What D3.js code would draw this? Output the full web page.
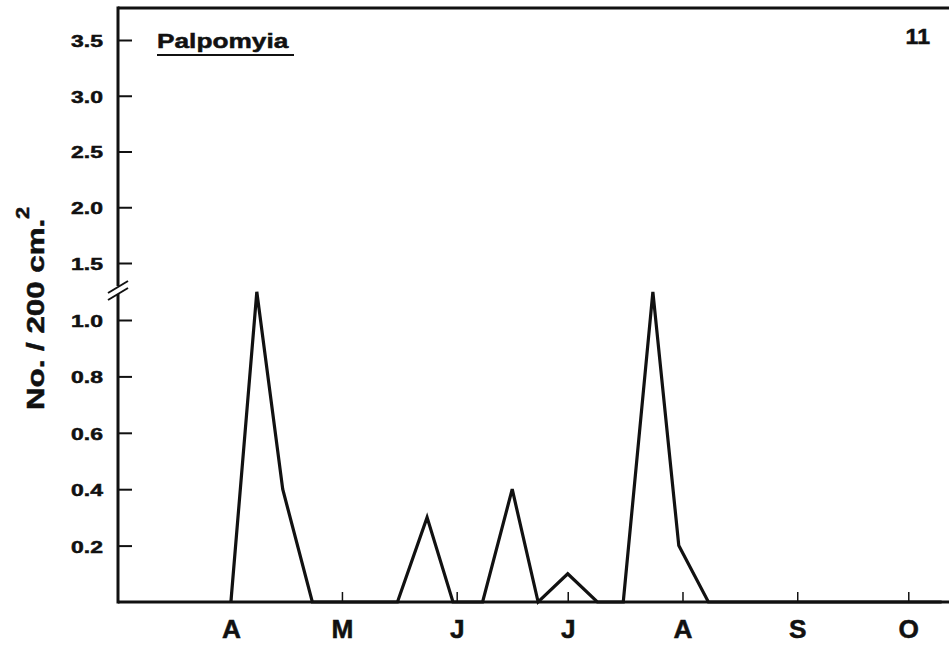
<!DOCTYPE html>
<html>
<head>
<meta charset="utf-8">
<script src="https://cdn.jsdelivr.net/npm/d3@7"></script>
<style>
  body { margin: 0; background: #fff; }
  text { font-family: "Liberation Sans", Arial, sans-serif; font-weight: bold; fill: #111; stroke: #111; stroke-width: 0.5px; }
</style>
</head>
<body>
<div id="chart"></div>
<script>
// sampling dates and counts (No. / 200 cm2)
var sampleDates = ["1975-04-01","1975-04-08","1975-04-15","1975-04-23","1975-04-30","1975-05-08",
  "1975-05-16","1975-05-24","1975-05-31","1975-06-08","1975-06-16","1975-06-23","1975-07-01",
  "1975-07-09","1975-07-16","1975-07-24","1975-07-31","1975-08-08","1975-08-15","1975-08-22",
  "1975-08-29","1975-09-05","1975-09-12","1975-09-19","1975-09-26","1975-10-03","1975-10-10"];
var counts = [0, 1.1, 0.4, 0, 0, 0,
  0, 0.3, 0, 0, 0.4, 0, 0.1,
  0, 0, 1.1, 0.2, 0, 0, 0,
  0, 0, 0, 0, 0, 0, 0];

var monthStarts = ["1975-04-01","1975-05-01","1975-06-01","1975-07-01","1975-08-01","1975-09-01","1975-10-01"];
var monthLabels = ["A","M","J","J","A","S","O"];
var lowTicks = [0.2, 0.4, 0.6, 0.8, 1.0];
var highTicks = [1.5, 2.0, 2.5, 3.0, 3.5];

var W = 949, H = 646;
var mLeft = 118, mTop = 8, mBottom = 602;

var parse = d3.utcParse("%Y-%m-%d");

var svg = d3.select("#chart").append("svg")
  .attr("width", W)
  .attr("height", H);

var x = d3.scaleUtc()
  .domain([new Date(Date.UTC(1975, 2, 1, 12)), new Date(Date.UTC(1975, 9, 12))])
  .range([mLeft, W]);

// broken y axis: two linear pieces
var yLow = d3.scaleLinear().domain([0, 1]).range([mBottom, 320]);
var yHigh = d3.scaleLinear().domain([1.5, 3.5]).range([263, 40]);

// stretch text horizontally like the wide typeface of the original
function stretch(sel, k) {
  sel.each(function() {
    var len = this.getComputedTextLength();
    d3.select(this).attr("textLength", len * k).attr("lengthAdjust", "spacingAndGlyphs");
  });
}

// y axis ticks
var fmt = d3.format(".1f");
[[yLow, lowTicks], [yHigh, highTicks]].forEach(function(p) {
  var g = svg.append("g")
    .attr("transform", "translate(" + mLeft + ",0)")
    .call(d3.axisLeft(p[0]).tickValues(p[1]).tickFormat(fmt).tickSizeInner(-14).tickSizeOuter(0).tickPadding(15));
  g.select(".domain").remove();
  g.selectAll(".tick line").attr("stroke", "#111").attr("stroke-width", 2);
  g.selectAll(".tick text").style("font-size", "17px").attr("dy", "0.38em");
  stretch(g.selectAll(".tick text"), 1.35);
});

// x axis
var xg = svg.append("g")
  .attr("transform", "translate(0," + mBottom + ")")
  .call(d3.axisBottom(x).tickValues(monthStarts.map(parse))
    .tickFormat(function(d, i) { return monthLabels[i]; })
    .tickSizeInner(-10).tickSizeOuter(0).tickPadding(18));
xg.select(".domain").remove();
xg.selectAll(".tick line").attr("stroke", "#111").attr("stroke-width", 1.5);
xg.selectAll(".tick text").style("font-size", "25px");
stretch(xg.selectAll(".tick text"), 1.05);

// frame lines
var axisStroke = 3;
svg.append("line").attr("x1", mLeft).attr("x2", W).attr("y1", mTop).attr("y2", mTop)
  .attr("stroke", "#111").attr("stroke-width", axisStroke);
svg.append("line").attr("x1", mLeft).attr("x2", W).attr("y1", mBottom).attr("y2", mBottom)
  .attr("stroke", "#111").attr("stroke-width", axisStroke);
svg.append("line").attr("x1", mLeft).attr("x2", mLeft).attr("y1", mTop - 1.5).attr("y2", 286)
  .attr("stroke", "#111").attr("stroke-width", axisStroke);
svg.append("line").attr("x1", mLeft).attr("x2", mLeft).attr("y1", 294).attr("y2", mBottom + 1.5)
  .attr("stroke", "#111").attr("stroke-width", axisStroke);
// break marks
[0, 7].forEach(function(o) {
  svg.append("line")
    .attr("x1", 108).attr("y1", 293 + o).attr("x2", 128).attr("y2", 281 + o)
    .attr("stroke", "#111").attr("stroke-width", 2);
});

// data line
var line = d3.line()
  .x(function(d, i) { return x(parse(sampleDates[i])); })
  .y(function(d) { return yLow(d); });

svg.append("path")
  .datum(counts)
  .attr("d", line)
  .attr("fill", "none")
  .attr("stroke", "#111")
  .attr("stroke-width", 3.2)
  .attr("stroke-linejoin", "miter");

// title
var title = svg.append("text").attr("x", 157).attr("y", 48).style("font-size", "21px").text("Palpomyia");
stretch(title, 1.25);
svg.append("line").attr("x1", 157).attr("x2", 294).attr("y1", 55).attr("y2", 55)
  .attr("stroke", "#111").attr("stroke-width", 2.2);

var num = svg.append("text").attr("x", 930).attr("y", 44).attr("text-anchor", "end")
  .style("font-size", "22px").text("11");
stretch(num, 1.05);

// y label
var yl = svg.append("g").attr("transform", "translate(44,410) rotate(-90)");
var ylt = yl.append("text").attr("x", 0).attr("y", 0).style("font-size", "23px").text("No. / 200 cm.");
stretch(ylt, 1.36);
var sup = yl.append("text").attr("x", 191).attr("y", -15).style("font-size", "19px").text("2");
stretch(sup, 1.15);
</script>
</body>
</html>
